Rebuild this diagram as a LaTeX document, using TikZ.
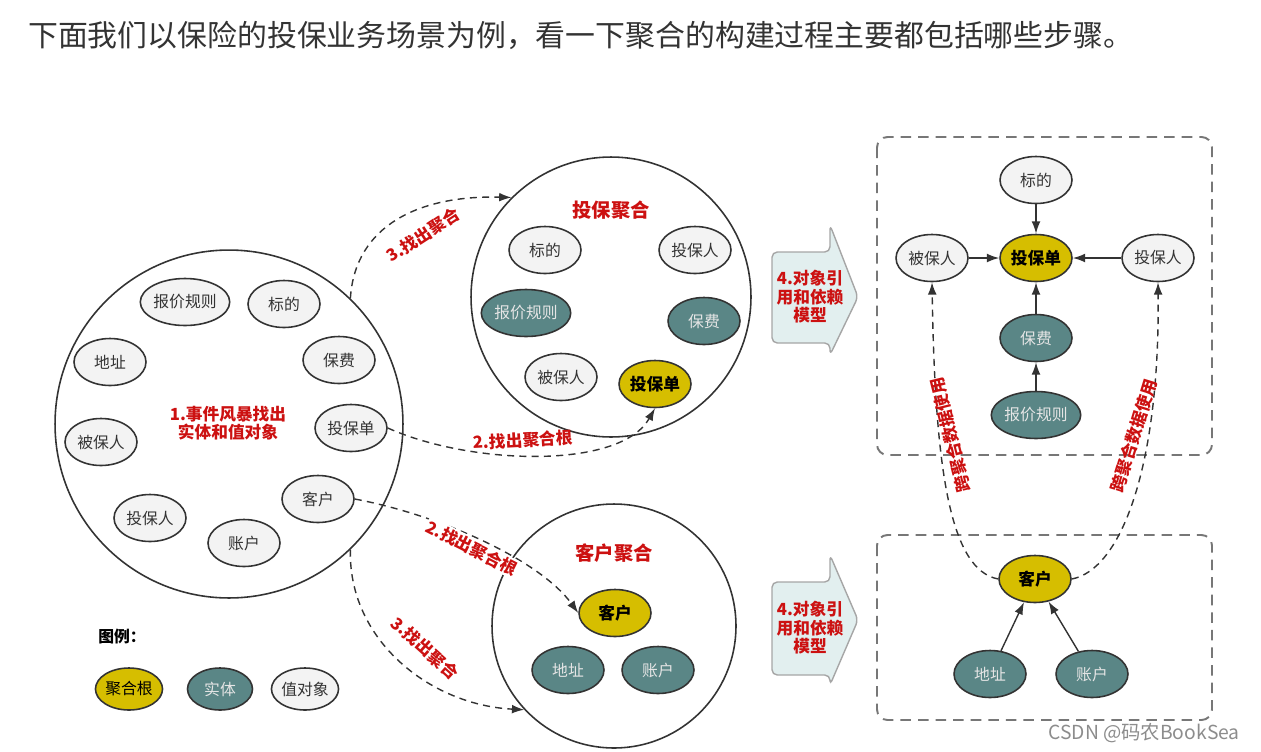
\documentclass[tikz,border=0pt]{standalone}
\usepackage{fontspec}
\setmainfont{Noto Sans CJK SC}
\usetikzlibrary{shapes.geometric,arrows.meta}
\definecolor{rootc}{HTML}{D6BE00}
\definecolor{entc}{HTML}{5A8686}
\definecolor{valc}{HTML}{F3F3F3}
\definecolor{redc}{HTML}{CC1111}
\definecolor{linec}{HTML}{333333}
\definecolor{boxc}{HTML}{777777}
\definecolor{arrc}{HTML}{E2EFEF}
\tikzset{
  obj/.style={ellipse,draw=linec,line width=0.9pt,minimum width=1.44cm,minimum height=0.94cm,inner sep=0pt,font=\fontsize{9}{10}\selectfont},
  val/.style={obj,fill=valc,text=black!80},
  ent/.style={obj,fill=entc,text=white!90!black},
  root/.style={obj,fill=rootc,font=\fontsize{9.5}{10}\selectfont\bfseries},
  wide/.style={minimum width=1.62cm},
  small/.style={minimum width=1.3cm,minimum height=0.84cm},
  agg/.style={circle,draw=linec,line width=0.9pt,inner sep=0pt},
  redlab/.style={text=redc,font=\fontsize{9.5}{10.5}\selectfont\bfseries},
  title/.style={text=redc,font=\fontsize{11}{12}\selectfont\bfseries},
  flow/.style={draw=linec,line width=0.8pt,dash pattern=on 4pt off 3pt,-{Latex[length=7pt,width=5pt]}},
  dep/.style={draw=linec,line width=0.8pt,-{Latex[length=7pt,width=5pt]}},
  bigarrow/.style={draw=black!35,fill=arrc,line width=0.8pt,rounded corners=3pt},
  dbox/.style={draw=boxc,line width=1.1pt,dash pattern=on 6pt off 4pt,rounded corners=6pt},
}
\begin{document}
\begin{tikzpicture}[x=0.02cm,y=-0.02cm]
\useasboundingbox (0,0) rectangle (1261,751);
\node[anchor=west,text=black!80,font=\fontsize{17}{20}\selectfont] (head) at (22,35)
  {下面我们以保险的投保业务场景为例，看一下聚合的构建过程主要都包括哪些步骤。};

% step 1
\node[agg,minimum size=6.96cm] (big) at (229,424) {};
\node[val,wide] (lbaojia) at (185,302) {报价规则};
\node[val] (lbiaodi) at (284,304) {标的};
\node[val] (ldizhi) at (110,362) {地址};
\node[val] (lbaofei) at (339,360) {保费};
\node[val] (lbei) at (101,442) {被保人};
\node[val] (ltoudan) at (351,428) {投保单};
\node[val] (lkehu) at (318,499) {客户};
\node[val] (ltouren) at (150,518) {投保人};
\node[val] (lzhang) at (244,543) {账户};
\node[redlab,align=center] (step1) at (228,423) {1.事件风暴找出\\实体和值对象};

% aggregates
\node[agg,minimum size=5.6cm] (agg1) at (611,297) {};
\node[title] (t1) at (611,210) {投保聚合};
\node[val] (abiaodi) at (545,250) {标的};
\node[val] (atouren) at (695,250) {投保人};
\node[ent,wide] (abaojia) at (526,313) {报价规则};
\node[ent] (abaofei) at (704,321) {保费};
\node[val] (abei) at (561,377) {被保人};
\node[root] (atoudan) at (655,384) {投保单};

\node[agg,minimum size=4.88cm] (agg2) at (614,626) {};
\node[title] (t2) at (614,553) {客户聚合};
\node[root] (akehu) at (615,613) {客户};
\node[ent] (adizhi) at (568,670) {地址};
\node[ent] (azhang) at (658,670) {账户};

\draw[flow] (big.46) .. controls (355,225) and (420,195) .. (agg1.135);
\node[redlab,rotate=33] (l3a) at (423,235) {3.找出聚合};
\draw[flow] (ltoudan.east) .. controls (470,465) and (620,470) .. (atoudan.south);
\node[redlab,rotate=3] (l2a) at (523,440) {2.找出聚合根};
\draw[flow] (lkehu.east) .. controls (440,515) and (540,560) .. (akehu.west);
\node[redlab,rotate=-27,fill=white,inner sep=1pt] (l2b) at (472,548) {2.找出聚合根};
\draw[flow] (big.-46) .. controls (348,640) and (430,705) .. (agg2.-137);
\node[redlab,rotate=-42] (l3b) at (425,648) {3.找出聚合};

% step 4
\draw[bigarrow] (772,252) -- (830,252) -- (830,225) -- (858,297) -- (830,355) -- (830,343) -- (772,343) -- cycle;
\node[redlab,align=center] (s4a) at (810,297) {4.对象引\\用和依赖\\模型};
\draw[bigarrow] (772,582) -- (830,582) -- (830,555) -- (858,620) -- (830,685) -- (830,675) -- (772,675) -- cycle;
\node[redlab,align=center] (s4b) at (810,628) {4.对象引\\用和依赖\\模型};

\draw[dbox] (877,137) rectangle (1212,455);
\draw[dbox] (877,535) rectangle (1212,720);
\node[val] (rbiaodi) at (1036,180) {标的};
\node[val] (rbei) at (932,258) {被保人};
\node[root] (rtoudan) at (1036,258) {投保单};
\node[val] (rtouren) at (1158,258) {投保人};
\node[ent] (rbaofei) at (1036,338) {保费};
\node[ent,wide] (rbaojia) at (1036,415) {报价规则};
\draw[dep] (rbiaodi) -- (rtoudan);
\draw[dep] (rbei) -- (rtoudan);
\draw[dep] (rtouren) -- (rtoudan);
\draw[dep] (rbaofei) -- (rtoudan);
\draw[dep] (rbaojia) -- (rbaofei);
\node[root] (rkehu) at (1035,579) {客户};
\node[ent] (rdizhi) at (990,674) {地址};
\node[ent] (rzhang) at (1092,674) {账户};
\draw[dep] (rdizhi) -- (rkehu);
\draw[dep] (rzhang) -- (rkehu);
\draw[flow] (rkehu.west) .. controls (950,570) and (935,470) .. (rbei.south);
\draw[flow] (rkehu.east) .. controls (1120,570) and (1160,470) .. (rtouren.south);
\node[redlab,rotate=104] (c1) at (950,435) {跨聚合数据使用};
\node[redlab,rotate=73] (c2) at (1134,436) {跨聚合数据使用};

% legend
\node[font=\fontsize{9}{10}\selectfont\bfseries] (leg) at (122,637) {图例：};
\node[root,small,font=\fontsize{9}{10}\selectfont] (kroot) at (129,689) {聚合根};
\node[ent,small] (kent) at (220,689) {实体};
\node[val,small] (kval) at (305,689) {值对象};

\node[anchor=east,text=black!45,font=\fontsize{11}{12}\selectfont] (wm) at (1246,733) {CSDN @码农BookSea};
\end{tikzpicture}
\end{document}
